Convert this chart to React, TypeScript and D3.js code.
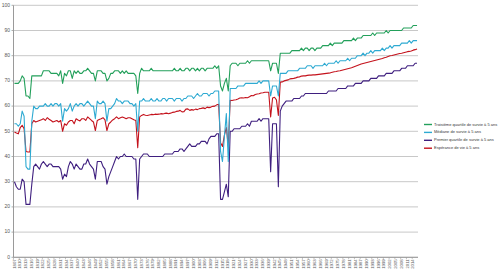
import React from "react";
import * as d3 from "d3";

const years: number[] = d3.range(1807, 2017);

const q3: number[] = [
  69, 69, 69, 70, 72, 71, 64, 64, 63, 72,
  72, 72, 72, 72, 72, 74, 74, 74, 74, 73,
  73, 73, 73, 72, 74, 69, 73, 72, 74, 74,
  71, 74, 73, 74, 73, 73, 74, 74, 75, 74,
  73, 73, 70, 74, 74, 74, 73, 73, 70, 71,
  73, 73, 74, 74, 74, 73, 74, 73, 74, 73,
  73, 73, 73, 72, 65, 73, 75, 74, 74, 74,
  74, 75, 74, 74, 74, 74, 74, 74, 74, 74,
  74, 74, 74, 75, 74, 74, 75, 74, 74, 75,
  75, 74, 75, 75, 74, 75, 74, 75, 75, 74,
  75, 75, 75, 75, 76, 75, 76, 68, 66, 69,
  71, 66, 76, 77, 77, 77, 76, 77, 77, 77,
  77, 78, 77, 78, 78, 78, 78, 78, 78, 78,
  78, 78, 78, 74, 77, 77, 77, 73, 81, 81,
  81, 81, 81, 81, 82, 82, 82, 82, 82, 83,
  82, 83, 83, 82, 83, 83, 82, 83, 83, 83,
  84, 84, 84, 84, 85, 84, 85, 85, 85, 85,
  85, 86, 86, 86, 86, 86, 87, 86, 87, 87,
  87, 88, 88, 88, 88, 88, 89, 88, 89, 89,
  89, 89, 89, 90, 89, 90, 90, 90, 90, 90,
  90, 90, 91, 91, 91, 91, 91, 92, 92, 92,
];

const median: number[] = [
  53, 53, 52, 53, 58, 56, 36, 35, 35, 54,
  60, 59, 59, 60, 60, 60, 61, 60, 60, 61,
  60, 61, 61, 60, 61, 54, 59, 58, 59, 61,
  58, 60, 61, 60, 61, 61, 60, 61, 62, 61,
  60, 60, 55, 62, 61, 61, 62, 61, 54, 59,
  59, 60, 61, 63, 62, 62, 61, 62, 62, 62,
  61, 61, 60, 61, 50, 62, 62, 63, 62, 62,
  62, 63, 62, 62, 63, 62, 62, 63, 63, 62,
  63, 63, 63, 62, 63, 63, 63, 62, 63, 63,
  64, 64, 64, 63, 64, 65, 64, 64, 65, 65,
  65, 64, 65, 65, 66, 66, 66, 42, 38, 48,
  57, 38, 67, 67, 67, 67, 68, 68, 68, 68,
  69, 69, 69, 69, 69, 69, 69, 70, 69, 70,
  70, 70, 70, 64, 68, 68, 68, 64, 73, 73,
  73, 73, 74, 74, 74, 74, 74, 74, 75, 75,
  75, 75, 76, 76, 76, 75, 76, 76, 76, 76,
  76, 77, 76, 77, 77, 77, 77, 78, 77, 78,
  78, 78, 78, 79, 78, 79, 79, 79, 80, 80,
  80, 81, 80, 81, 81, 82, 81, 82, 82, 82,
  82, 83, 82, 83, 83, 84, 83, 84, 84, 84,
  84, 85, 85, 85, 85, 86, 85, 86, 86, 86,
];

const q1: number[] = [
  30, 28, 27, 27, 31, 30, 21, 21, 21, 29,
  36, 37, 36, 35, 37, 38, 37, 36, 37, 37,
  36, 36, 36, 36, 35, 31, 33, 32, 36, 38,
  37, 35, 37, 36, 35, 35, 37, 37, 39, 37,
  36, 35, 31, 38, 38, 38, 36, 35, 29, 32,
  34, 36, 38, 40, 39, 40, 40, 41, 40, 40,
  40, 40, 39, 39, 23, 39, 40, 41, 41, 41,
  40, 40, 40, 40, 40, 40, 40, 40, 41, 41,
  41, 41, 41, 42, 42, 42, 43, 43, 42, 43,
  44, 45, 44, 44, 44, 45, 45, 46, 46, 46,
  45, 47, 48, 48, 48, 49, 49, 23, 23, 26,
  29, 24, 50, 50, 51, 51, 51, 51, 52, 52,
  52, 53, 52, 54, 54, 54, 54, 55, 54, 55,
  55, 55, 55, 34, 53, 53, 53, 28, 58, 60,
  61, 62, 62, 62, 62, 63, 63, 63, 63, 64,
  64, 65, 65, 65, 65, 65, 65, 65, 65, 65,
  65, 65, 65, 66, 66, 66, 66, 66, 67, 67,
  67, 67, 67, 68, 68, 68, 68, 69, 69, 69,
  69, 70, 70, 70, 70, 71, 71, 71, 71, 72,
  72, 72, 72, 73, 73, 73, 73, 74, 74, 74,
  74, 75, 75, 75, 76, 76, 76, 76, 77, 77,
];

const expectancy: number[] = [
  49.7, 49.3, 49.0, 51.5, 52.4, 51.0, 42.0, 41.8, 41.8, 53.0,
  54.3, 53.7, 54.0, 54.3, 54.6, 55.0, 54.3, 55.4, 54.8, 54.3,
  53.7, 54.0, 54.3, 53.7, 54.3, 50.0, 53.0, 52.4, 53.7, 54.3,
  54.3, 53.0, 55.0, 54.5, 54.1, 55.0, 55.0, 54.3, 55.7, 55.0,
  54.3, 53.7, 50.3, 54.3, 54.7, 55.0, 55.4, 54.5, 50.3, 53.0,
  53.7, 54.5, 55.0, 55.7, 55.0, 55.4, 55.7, 55.4, 55.0, 55.4,
  55.4, 55.0, 54.6, 54.3, 43.5, 55.7, 56.3, 56.7, 56.4, 56.3,
  56.5, 56.7, 56.6, 56.8, 56.7, 56.8, 57.0, 56.9, 57.1, 57.2,
  57.0, 57.2, 57.5, 57.6, 57.9, 58.0, 58.3, 57.7, 57.8, 58.8,
  58.9, 58.3, 58.6, 58.4, 58.8, 58.6, 59.0, 59.1, 59.3, 59.0,
  59.6, 59.4, 59.6, 59.9, 60.0, 60.5, 60.7, 45.5, 44.0, 48.5,
  51.5, 44.0, 62.3, 62.2, 62.4, 62.5, 62.8, 63.2, 63.3, 63.2,
  63.4, 63.3, 63.7, 64.2, 64.1, 64.6, 64.8, 64.9, 65.2, 65.3,
  65.5, 65.5, 65.5, 55.7, 63.2, 63.5, 62.5, 56.3, 69.5, 69.6,
  70.0, 70.2, 70.4, 70.8, 70.9, 71.0, 71.2, 71.5, 71.6, 71.9,
  72.0, 72.0, 72.2, 72.3, 72.3, 72.4, 72.4, 72.5, 72.6, 72.7,
  72.8, 72.9, 73.0, 73.1, 73.2, 73.4, 73.6, 73.7, 73.9, 74.0,
  74.2, 74.4, 74.6, 74.8, 75.0, 75.2, 75.5, 75.8, 76.1, 76.4,
  76.7, 76.9, 77.1, 77.3, 77.5, 77.7, 77.9, 78.1, 78.3, 78.5,
  78.7, 78.9, 79.2, 79.4, 79.7, 80.0, 80.1, 80.3, 80.5, 80.7,
  80.9, 81.0, 81.2, 81.4, 81.6, 81.7, 81.9, 82.2, 82.4, 82.7,
];

const seriesNames: string[] = [
  "Troisième quartile de survie à 5 ans",
  "Médiane de survie à 5 ans",
  "Premier quartile de survie à 5 ans",
  "Espérance de vie à 5 ans",
];

const yTicks: number[] = [0, 10, 20, 30, 40, 50, 60, 70, 80, 90, 100];

export default function App() {
  const left = 13.5;
  const right = 418;
  const top = 5.3;
  const bottom = 257.3;

  const x = d3.scalePoint<number>().domain(years).range([left, right]).padding(0.5);
  const y = d3.scaleLinear().domain([0, 100]).range([bottom, top]);
  const step = x.step();

  const series = [
    { name: seriesNames[0], values: q3, color: "#23a05b" },
    { name: seriesNames[1], values: median, color: "#2eaad2" },
    { name: seriesNames[2], values: q1, color: "#3f1f7f" },
    { name: seriesNames[3], values: expectancy, color: "#c4121c" },
  ];
  // draw order: expectancy under? keep as in reference
  const drawOrder = [3, 2, 1, 0];

  const line = (vals: number[]) =>
    d3
      .line<number>()
      .x((_, i) => x(years[i]) as number)
      .y((v) => y(v))(vals) as string;

  const font = "'Liberation Sans', Arial, sans-serif";
  const labelYears = years.filter((yr) => (yr - 1807) % 3 === 0);

  return (
    <svg
      width={500}
      height={272}
      style={{ position: "absolute", left: 0, top: 0, background: "#fff" }}
      fontFamily={font}
    >
      <rect x={0} y={0} width={500} height={272} fill="#fff" />
      {yTicks.map((t) => (
        <line key={"g" + t} x1={left} x2={right} y1={y(t)} y2={y(t)} stroke="#c8c8c8" strokeWidth={1} />
      ))}
      <line x1={left} x2={left} y1={top} y2={bottom} stroke="#9a9a9a" strokeWidth={1} />
      <line x1={left} x2={right} y1={bottom} y2={bottom} stroke="#9a9a9a" strokeWidth={1} />
      {yTicks.map((t) => (
        <line key={"yt" + t} x1={left - 2} x2={left} y1={y(t)} y2={y(t)} stroke="#9a9a9a" strokeWidth={0.8} />
      ))}
      {yTicks.map((t) => (
        <text key={"yl" + t} x={10} y={y(t)} fontSize={5} fill="#555" textAnchor="end" dominantBaseline="middle">
          {t}
        </text>
      ))}
      {labelYears.map((yr) => {
        const cx = (x(yr) as number) - step / 2;
        return <line key={"xt" + yr} x1={cx} x2={cx} y1={bottom} y2={bottom + 2} stroke="#9a9a9a" strokeWidth={0.6} />;
      })}
      {labelYears.map((yr) => (
        <text
          key={"xl" + yr}
          transform={`translate(${x(yr)},${bottom + 2}) rotate(-90)`}
          fontSize={4.3}
          fill="#555"
          textAnchor="end"
          dominantBaseline="middle"
        >
          {yr}
        </text>
      ))}
      {drawOrder.map((k) => (
        <path key={"s" + k} d={line(series[k].values)} fill="none" stroke={series[k].color} strokeWidth={1.1} strokeLinejoin="round" />
      ))}
      {series.map((s, i) => {
        const ly = 124.5 + i * 7.9;
        return (
          <g key={"lg" + i}>
            <line x1={424} x2={432} y1={ly} y2={ly} stroke={s.color} strokeWidth={1.4} />
            <text x={434} y={ly} fontSize={4} fill="#333" dominantBaseline="middle">
              {s.name}
            </text>
          </g>
        );
      })}
    </svg>
  );
}
